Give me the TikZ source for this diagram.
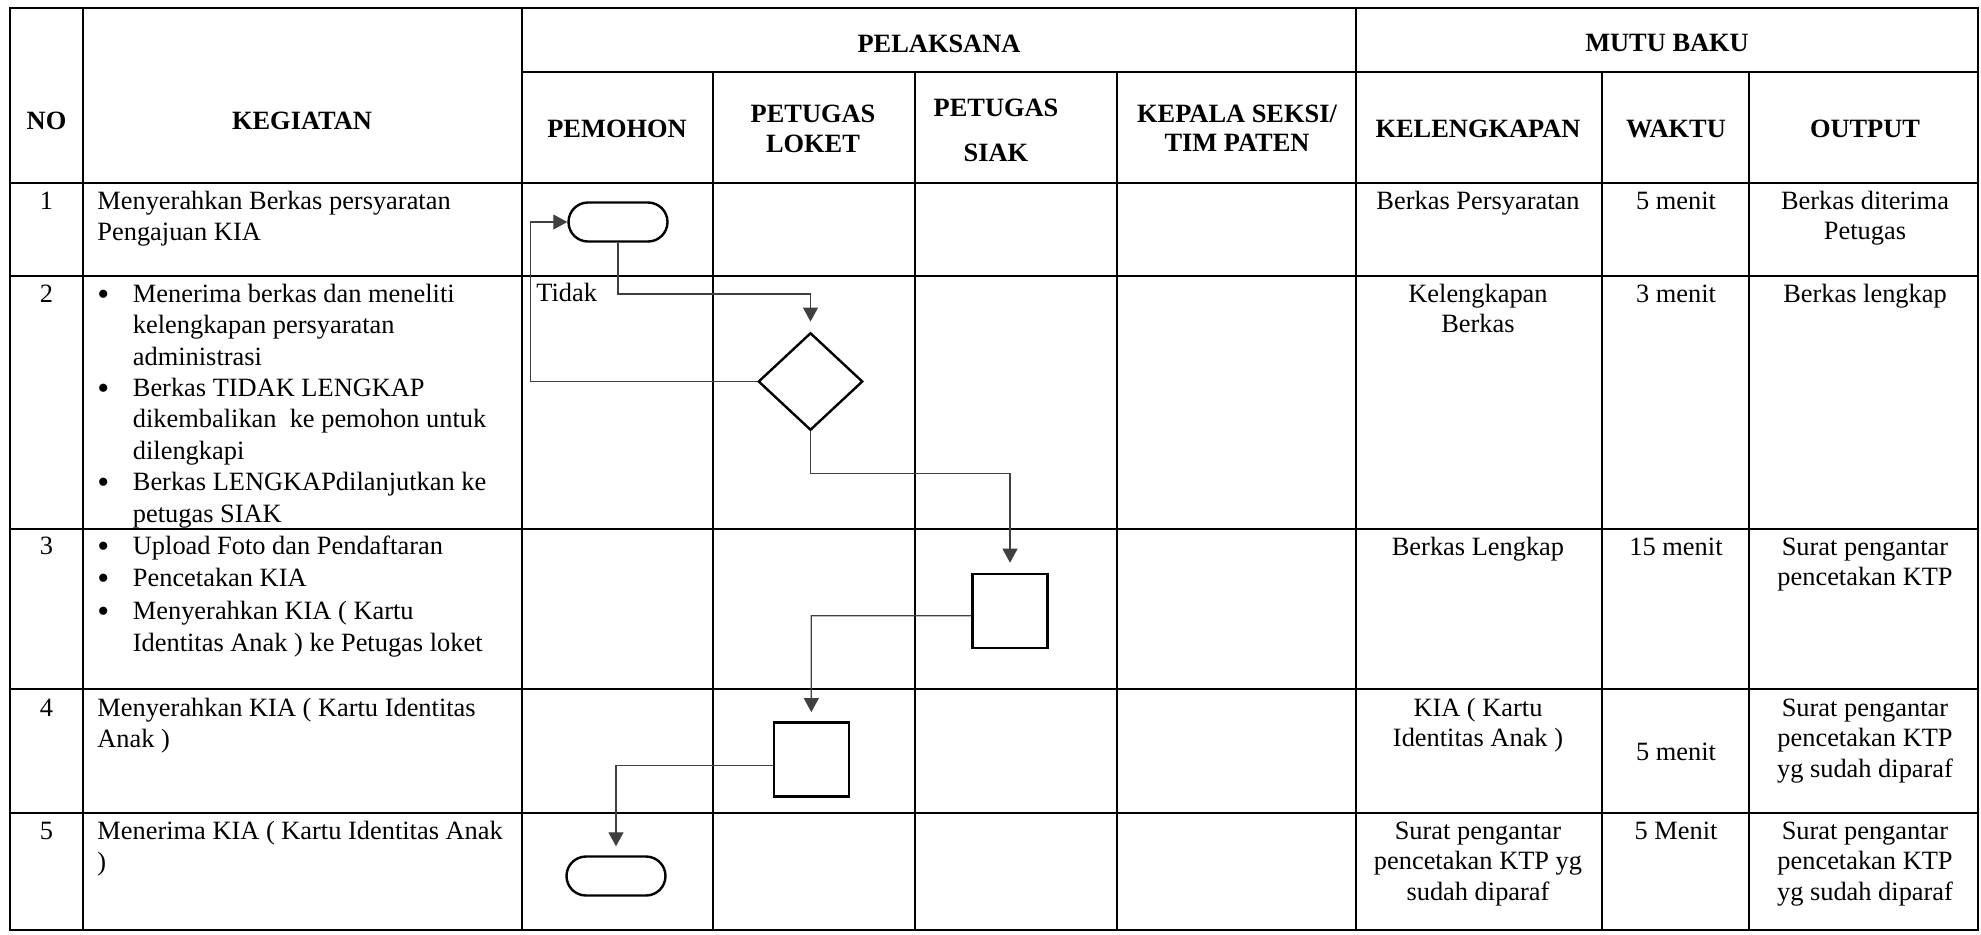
\documentclass[tikz,border=0pt]{standalone}
\usepackage{fontspec}
\setmainfont{Liberation Serif}
\usetikzlibrary{shapes.geometric,arrows.meta}
\newcommand\lcell[1]{\begin{tabular}{@{}l@{}}#1\end{tabular}}
\newcommand\ccell[1]{\begin{tabular}{@{}c@{}}#1\end{tabular}}
\newcommand\bu{\makebox[17.75pt][l]{\raisebox{-1.6pt}{\fontsize{17}{15}\selectfont\textbullet}}}
\newcommand\ind{\hspace*{17.75pt}}
\begin{document}
\begin{tikzpicture}[x=0.5pt,y=-0.5pt,
  grid/.style={line width=1pt},
  conn/.style={draw=black!75,line width=0.6pt,-{Triangle[length=7pt,width=7.5pt]}},
  term/.style={draw,line width=1.2pt,rounded corners=9.75pt,minimum width=49.5pt,minimum height=19.5pt,inner sep=0pt},
  dec/.style={diamond,draw,line width=1.2pt,minimum width=52.25pt,minimum height=48.75pt,inner sep=0pt},
  proc/.style={draw,line width=1.3pt,minimum width=37.5pt,minimum height=37pt,inner sep=0pt},
  hd/.style={font=\fontsize{13.2}{15.2}\selectfont\bfseries,inner sep=0pt,anchor=base},
  num/.style={font=\fontsize{13.2}{15.2}\selectfont,inner sep=0pt,anchor=base},
  lt/.style={font=\fontsize{13.2}{15.7}\selectfont,inner sep=0pt,anchor=north west},
  lt3/.style={font=\fontsize{13.2}{16.2}\selectfont,inner sep=0pt,anchor=north west},
  ct/.style={font=\fontsize{13.2}{15.2}\selectfont,inner sep=0pt,anchor=north},
]
\useasboundingbox (0,0) rectangle (1981,934);
% table grid
\draw[grid] (10,7.5) rectangle (1978,930);
\draw[grid] (521.5,72) -- (1978,72);
\foreach \y in {183,276,529,689,813} \draw[grid] (10,\y) -- (1978,\y);
\foreach \x in {83,521.5,1356} \draw[grid] (\x,7.5) -- (\x,930);
\foreach \x in {713,914.5,1117,1602,1749} \draw[grid] (\x,72) -- (\x,930);

% headers
\node[hd] (hno) at (46.5,129.5) {NO};
\node[hd] (hkeg) at (302,129.5) {KEGIATAN};
\node[hd] (hpel) at (939,52) {PELAKSANA};
\node[hd] (hmutu) at (1667,51) {MUTU BAKU};
\node[hd] (hpem) at (617,137) {PEMOHON};
\node[hd] (hlok1) at (813,122) {PETUGAS};
\node[hd] (hlok2) at (813,152) {LOKET};
\node[hd] (hsiak1) at (996,116) {PETUGAS};
\node[hd] (hsiak2) at (996,161) {SIAK};
\node[hd] (hkep1) at (1237,122) {KEPALA SEKSI/};
\node[hd] (hkep2) at (1237,151) {TIM PATEN};
\node[hd] (hkel) at (1478,137) {KELENGKAPAN};
\node[hd] (hwak) at (1676,137) {WAKTU};
\node[hd] (hout) at (1865,137) {OUTPUT};

% numbers
\node[num] (n1) at (46.5,209) {1};
\node[num] (n2) at (46.5,302) {2};
\node[num] (n3) at (46.5,554) {3};
\node[num] (n4) at (46.5,716) {4};
\node[num] (n5) at (46.5,839) {5};

% kegiatan
\node[lt] (k1) at (97,187) {\lcell{Menyerahkan Berkas persyaratan\\Pengajuan KIA}};
\node[lt] (k2) at (97,280) {\lcell{\bu Menerima berkas dan meneliti\\\ind kelengkapan persyaratan\\\ind administrasi\\\bu Berkas TIDAK LENGKAP\\\ind dikembalikan\ \ ke pemohon untuk\\\ind dilengkapi\\\bu Berkas LENGKAPdilanjutkan ke\\\ind petugas SIAK}};
\node[lt3] (k3) at (97,531.3) {\lcell{\bu Upload Foto dan Pendaftaran\\\bu Pencetakan KIA\\\bu Menyerahkan KIA ( Kartu\\\ind Identitas Anak ) ke Petugas loket}};
\node[lt] (k4) at (97,694) {\lcell{Menyerahkan KIA ( Kartu Identitas\\Anak )}};
\node[lt] (k5) at (97,817) {\lcell{Menerima KIA ( Kartu Identitas Anak\\)}};

% mutu baku
\node[ct] (kel1) at (1478,187.7) {\ccell{Berkas Persyaratan}};
\node[ct] (wak1) at (1676,187.7) {\ccell{5 menit}};
\node[ct] (out1) at (1865,187.7) {\ccell{Berkas diterima\\Petugas}};
\node[ct] (kel2) at (1478,280.7) {\ccell{Kelengkapan\\Berkas}};
\node[ct] (wak2) at (1676,280.7) {\ccell{3 menit}};
\node[ct] (out2) at (1865,280.7) {\ccell{Berkas lengkap}};
\node[ct] (kel3) at (1478,533.7) {\ccell{Berkas Lengkap}};
\node[ct] (wak3) at (1676,533.7) {\ccell{15 menit}};
\node[ct] (out3) at (1865,533.7) {\ccell{Surat pengantar\\pencetakan KTP}};
\node[ct] (kel4) at (1478,694.7) {\ccell{KIA ( Kartu\\Identitas Anak )}};
\node[num] (wak4) at (1676,760) {5 menit};
\node[ct] (out4) at (1865,694.7) {\ccell{Surat pengantar\\pencetakan KTP\\yg sudah diparaf}};
\node[ct] (kel5) at (1478,817.7) {\ccell{Surat pengantar\\pencetakan KTP yg\\sudah diparaf}};
\node[ct] (wak5) at (1676,817.7) {\ccell{5 Menit}};
\node[ct] (out5) at (1865,817.7) {\ccell{Surat pengantar\\pencetakan KTP\\yg sudah diparaf}};

% flow shapes
\node[term] (t1) at (618,222) {};
\node[dec] (d) at (810.5,381.5) {};
\node[proc] (b3) at (1010,611) {};
\node[proc] (b4) at (811.3,759.4) {};
\node[term] (t5) at (616,876) {};
\node[num,anchor=base west] (tidak) at (536,301.5) {Tidak};

% connectors
\coordinate (c1) at (810.5,294);
\draw[conn,shorten >=5pt] (t1.south) |- (c1) -- (d.north);
\coordinate (c2) at (530.5,381.5);
\draw[conn] (d.west) -- (c2) |- (t1.west);
\coordinate (c3) at (1010,473.3);
\draw[conn,shorten >=5pt] (d.south) |- (c3) -- (b3.north);
\coordinate (c4) at (811.3,615.7);
\draw[conn,shorten >=4.5pt] ([yshift=-2.35pt]b3.west) -- (c4) -- (b4.north);
\coordinate (c5) at (616,765.7);
\draw[conn,shorten >=4.5pt] ([yshift=-3.15pt]b4.west) -- (c5) -- (t5.north);
\end{tikzpicture}
\end{document}
